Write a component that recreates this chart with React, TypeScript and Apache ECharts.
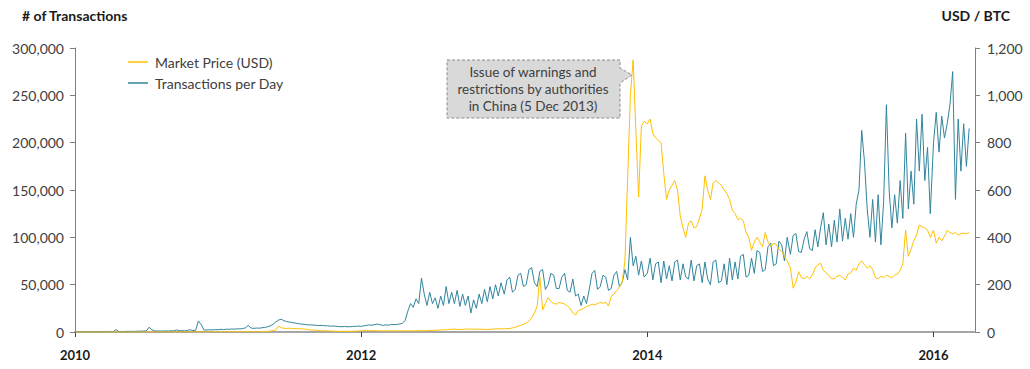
import React, { useEffect, useRef } from "react";
import * as echarts from "echarts";

// Weekly samples (transactions in thousands per day, price in USD)
const tx2010 = [0.2,0.3,0.2,0.3,0.3,0.4,0.3,0.4,0.3,0.5,
  0.4,0.5,0.4,0.6,0.5,2.5,0.5,0.6,0.5,0.7,
  0.6,0.7,0.6,0.8,0.9,1.0,1.2,5.0,2.5,1.2,
  1.0,1.1,0.9,1.2,1.0,1.3,1.2,2.2,1.3,1.4,
  1.2,1.6,2.4,1.5,1.8,11.5,8.0,2.2,2.0,2.4,2.2,2.5];
const tx2011 = [2.4,2.8,2.5,3.0,2.8,3.2,3.0,3.4,3.3,3.6,
  4.5,7.0,4.2,3.8,4.2,4.0,4.5,4.8,5.5,6.5,
  8.0,10.5,12.5,13.5,12.0,11.0,10.5,10.0,9.5,9.0,
  8.5,8.2,7.8,7.5,7.6,7.2,7.0,6.8,7.0,6.6,
  6.5,6.2,6.4,6.0,5.8,5.5,5.8,5.6,5.5,5.8,6.0,6.2];
const tx2012 = [6.0,6.5,7.0,7.5,7.2,7.8,8.5,7.5,7.0,7.6,7.2,8.0,7.8,
  8.0,8.5,9.0,12.0,
  22,30,26,35,30,
  57,40,28,42,30,
  36,25,38,28,48,30,
  42,30,44,27,40,28,
  38,20,34,25,40,30,
  45,32,48,35,50,38,52];
const tx2013 = [40,55,58,42,45,60,62,48,50,66,
  68,52,48,64,66,45,50,62,60,46,
  46,58,62,44,42,56,38,
  40,28,38,30,45,
  62,65,45,48,60,58,44,
  46,60,64,48,52,66,55,
  100,70,80,60,75,58];
const tx2014 = [62,78,55,72,74,52,75,56,70,54,
  74,76,55,72,58,56,76,54,70,72,
  52,74,56,50,74,76,52,54,72,50,
  78,55,74,56,80,82,58,60,78,62,
  86,84,64,66,90,94,70,72,96,92,75,100];
const tx2015 = [82,102,104,85,84,98,106,88,86,108,
  90,110,126,
  92,114,90,118,95,130,96,
  120,98,125,100,135,
  150,213,180,130,
  100,140,95,145,92,138,
  240,150,110,
  145,115,160,120,
  210,130,170,135,
  225,170,230,160,195,125];
const tx2016 = [200,232,190,228,205,220,240,275,140,225,170,220,175,215];

const price2010 = [0.05,0.05,0.05,0.05,0.05,0.05,0.05,0.05,0.05,0.05,
  0.05,0.05,0.05,0.05,0.05,0.05,0.05,0.05,0.05,0.05,
  0.05,0.05,0.05,0.05,0.05,0.05,0.05,0.06,0.07,0.07,
  0.07,0.07,0.07,0.07,0.06,0.06,0.06,0.06,0.06,0.06,
  0.1,0.12,0.2,0.25,0.28,0.22,0.24,0.24,0.25,0.25,0.25,0.3];
const price2011 = [0.3,0.35,0.4,0.45,0.9,0.95,0.9,0.88,0.9,0.85,
  0.88,0.85,0.8,0.75,0.8,1.0,1.2,1.6,2.5,3.5,
  6.5,8.5,25,18,16,15,16,15,14.5,14,
  13.5,13,12,10,8,8,7,6,5,5.2,
  4.8,4.5,3.5,3.3,2.5,2.5,2.9,2.5,3.0,3.2,3.4,4.2];
const price2012 = [5.5,6.5,6.8,6.0,5.5,5.8,5.5,4.8,4.9,4.9,
  5.0,4.8,4.9,4.9,5.0,4.9,5.1,5.0,5.1,5.0,
  5.1,5.2,5.3,5.6,6.0,6.5,6.7,7.0,7.6,8.8,
  9.0,9.2,11,11.5,13,10.5,10.8,11,12,12.3,
  12.5,12.2,11.8,11.6,11.7,10.9,11.0,11.2,12.5,13.2,13.4,13.5];
const price2013 = [13.5,14,15,17,20,24,28,32,38,46,60,80,110,
  230,93,120,145,
  130,120,118,125,122,118,110,100,80,72,90,95,100,108,110,
  118,115,120,125,122,125,110,
  150,160,175,190,210,
  300,650,1000,1150,850,570,870,890];
const price2014 = [880,900,840,820,810,800,670,560,600,620,
  640,600,490,440,400,460,470,440,445,480,
  520,660,600,560,630,640,630,620,600,585,
  560,515,500,475,480,470,420,400,345,380,
  400,380,360,420,380,360,375,370,350,340,320,300];
const price2015 = [270,185,210,255,230,
  225,235,225,240,
  270,285,290,260,
  250,240,225,225,
  235,240,230,220,
  245,250,270,260,
  290,300,285,270,
  280,265,230,225,
  235,230,240,235,230,240,
  245,260,290,
  431,320,350,385,410,452,445,440,430,400];
const price2016 = [430,375,400,385,405,430,420,415,420,410,415,418,415,420];

const years = [2010, 2011, 2012, 2013, 2014, 2015, 2016];
const txByYear = [tx2010, tx2011, tx2012, tx2013, tx2014, tx2015, tx2016];
const priceByYear = [price2010, price2011, price2012, price2013, price2014, price2015, price2016];
const xTickYears = [2010, 2012, 2014, 2016];
const seriesNames = ["Market Price (USD)", "Transactions per Day"];
const leftAxisTitle = "# of Transactions";
const rightAxisTitle = "USD / BTC";
const noteLines = ["Issue of warnings and", "restrictions by authorities", "in China (5 Dec 2013)"];

function buildPoints(byYear: number[][], scale: number): number[][] {
  const out: number[][] = [];
  byYear.forEach((vals, k) => {
    vals.forEach((v, i) => {
      out.push([years[k] + (i * 7) / 365.25, v * scale]);
    });
  });
  return out;
}

const FONT = "Lato, 'Open Sans', sans-serif";
const fmt = (v: number) => v.toLocaleString("en-US");

export default function App() {
  const ref = useRef<HTMLDivElement>(null);
  useEffect(() => {
    if (!ref.current) return;
    const chart = echarts.init(ref.current, undefined, { renderer: "svg" });
    const txData = buildPoints(txByYear, 1000);
    const priceData = buildPoints(priceByYear, 1);
    chart.setOption({
      animation: false,
      backgroundColor: "#ffffff",
      textStyle: { fontFamily: FONT },
      grid: { left: 75, right: 55, top: 48, bottom: 37, containLabel: false },
      legend: {
        data: seriesNames,
        orient: "vertical",
        left: 128,
        top: 55,
        padding: 0,
        itemGap: 7,
        itemWidth: 20,
        itemHeight: 1.5,
        icon: "rect",
        textStyle: { fontFamily: FONT, fontSize: 14, color: "#404040", padding: [0, 0, 0, 2] },
      },
      xAxis: {
        type: "value",
        min: 2010,
        max: 2016.29,
        interval: 2,
        axisLine: { show: true, lineStyle: { color: "#a6a6a6", width: 2 } },
        axisTick: { show: true, length: 5, lineStyle: { color: "#404040", width: 1 } },
        splitLine: { show: false },
        axisLabel: {
          showMaxLabel: false,
          margin: 16,
          fontFamily: FONT,
          fontSize: 13,
          fontWeight: "bold",
          color: "#1a1a1a",
          formatter: (v: number) => (xTickYears.includes(Math.round(v)) && Math.abs(v - Math.round(v)) < 1e-6 ? String(Math.round(v)) : ""),
        },
      },
      yAxis: [
        {
          type: "value",
          min: 0,
          max: 300000,
          interval: 50000,
          position: "left",
          axisLine: { show: true, lineStyle: { color: "#7f7f7f", width: 1 } },
          axisTick: { show: true, length: 5, lineStyle: { color: "#7f7f7f" } },
          splitLine: { show: false },
          axisLabel: { margin: 11, fontFamily: FONT, fontSize: 14, color: "#404040", formatter: fmt },
        },
        {
          type: "value",
          min: 0,
          max: 1200,
          interval: 200,
          position: "right",
          axisLine: { show: true, lineStyle: { color: "#7f7f7f", width: 1 } },
          axisTick: { show: true, length: 5, lineStyle: { color: "#7f7f7f" } },
          splitLine: { show: false },
          axisLabel: { margin: 12, fontFamily: FONT, fontSize: 14, color: "#404040", formatter: fmt },
        },
      ],
      series: [
        {
          name: seriesNames[1],
          type: "line",
          yAxisIndex: 0,
          data: txData,
          symbol: "none",
          showSymbol: false,
          lineStyle: { color: "#31859c", width: 1 },
          itemStyle: { color: "#31859c" },
          z: 2,
        },
        {
          name: seriesNames[0],
          type: "line",
          yAxisIndex: 1,
          data: priceData,
          symbol: "none",
          showSymbol: false,
          lineStyle: { color: "#ffc000", width: 1 },
          itemStyle: { color: "#ffc000" },
          z: 3,
        },
      ],
      graphic: [
        {
          type: "text",
          left: 22,
          top: 8,
          style: { text: leftAxisTitle, fontFamily: FONT, fontSize: 14, fontWeight: "bold", fill: "#1a1a1a" },
        },
        {
          type: "text",
          right: 20,
          top: 8,
          style: { text: rightAxisTitle, fontFamily: FONT, fontSize: 14, fontWeight: "bold", fill: "#1a1a1a" },
        },
        {
          type: "polygon",
          shape: { points: [[447, 60], [620, 60], [620, 68], [632, 75], [620, 83], [620, 118], [447, 118]] },
          style: { fill: "#d9d9d9", stroke: "#8c8c8c", lineWidth: 1, lineDash: [3, 2] },
          z: 10,
        },
        {
          type: "text",
          x: 533,
          y: 89,
          style: {
            text: noteLines.join("\n"),
            fontFamily: FONT,
            fontSize: 13.5,
            lineHeight: 17,
            fill: "#404040",
            align: "center",
            verticalAlign: "middle",
          },
          z: 11,
        },
      ],
    });
    return () => chart.dispose();
  }, []);
  return <div ref={ref} style={{ position: "fixed", left: 0, top: 0, width: 1030, height: 369 }} />;
}
